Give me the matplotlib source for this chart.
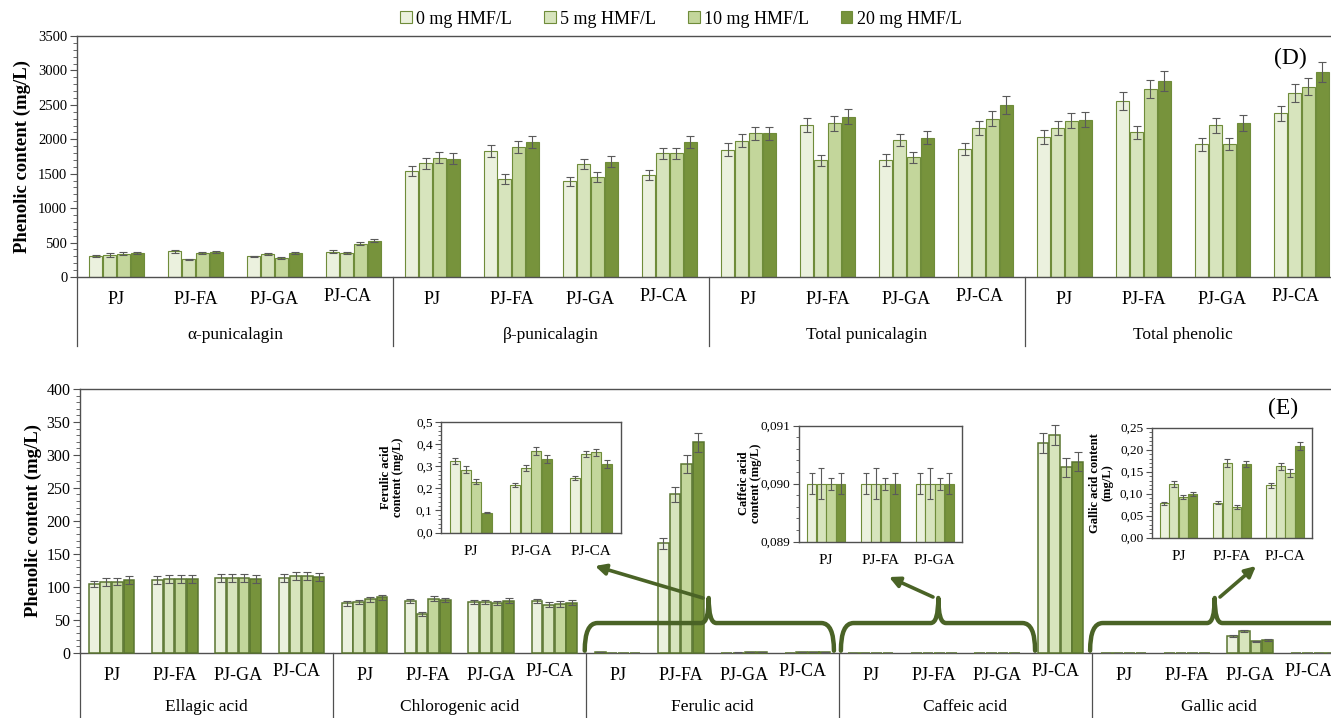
import numpy as np
import matplotlib
matplotlib.use("Agg")
import matplotlib.pyplot as plt
from matplotlib.path import Path
from matplotlib.patches import PathPatch, Patch, FancyArrowPatch
from matplotlib.ticker import MultipleLocator, FuncFormatter
from matplotlib.transforms import blended_transform_factory

plt.rcParams['font.family'] = ['Liberation Serif', 'DejaVu Serif']

# ---------------- data ----------------
samples = ["PJ", "PJ-FA", "PJ-GA", "PJ-CA"]
doses = ["0 mg HMF/L", "5 mg HMF/L", "10 mg HMF/L", "20 mg HMF/L"]

groups_D = ["α-punicalagin", "β-punicalagin", "Total punicalagin", "Total phenolic"]
alpha_pun = [[300, 320, 335, 345], [375, 255, 345, 365], [300, 335, 270, 345], [365, 345, 480, 530]]
alpha_pun_err = [[15, 25, 22, 15], [20, 12, 18, 15], [12, 20, 15, 15], [20, 15, 22, 25]]
beta_pun = [[1540, 1650, 1735, 1720], [1830, 1420, 1885, 1960], [1390, 1645, 1450, 1675], [1480, 1800, 1795, 1960]]
beta_pun_err = [[75, 75, 85, 85], [85, 75, 85, 85], [65, 70, 70, 75], [70, 80, 85, 90]]
total_pun = [[1850, 1980, 2085, 2085], [2205, 1695, 2235, 2330], [1695, 1990, 1740, 2025], [1855, 2165, 2300, 2495]]
total_pun_err = [[95, 90, 100, 100], [100, 80, 110, 110], [85, 90, 80, 100], [90, 105, 110, 130]]
total_phen = [[2030, 2160, 2270, 2285], [2555, 2100, 2725, 2845], [1925, 2205, 1935, 2235], [2375, 2675, 2765, 2980]]
total_phen_err = [[100, 100, 110, 105], [125, 95, 130, 140], [95, 110, 90, 120], [110, 130, 120, 145]]

groups_E = ["Ellagic acid", "Chlorogenic acid", "Ferulic acid", "Caffeic acid", "Gallic acid"]
ellagic = [[104, 107, 108, 110], [110, 112, 112, 112], [113, 113, 113, 112], [113, 116, 116, 115]]
ellagic_err = [[5, 6, 6, 6], [6, 6, 6, 6], [6, 6, 6, 6], [6, 6, 6, 6]]
chlorogenic = [[75, 77, 81, 84], [79, 59, 82, 80], [77, 77, 75, 79], [78, 73, 74, 76]]
chlorogenic_err = [[4, 3, 4, 4], [3, 3, 4, 3], [3, 3, 3, 4], [3, 4, 4, 4]]
# ferulic acid (inset values for PJ, PJ-GA, PJ-CA)
ferulic_PJ = [0.324, 0.285, 0.230, 0.090]
ferulic_PJ_FA = [166, 240, 286, 319]
ferulic_PJ_GA = [0.215, 0.291, 0.367, 0.333]
ferulic_PJ_CA = [0.247, 0.356, 0.362, 0.311]
ferulic_err_PJ = [0.015, 0.015, 0.010, 0.003]
ferulic_err_PJ_FA = [8, 12, 14, 15]
ferulic_err_PJ_GA = [0.010, 0.013, 0.018, 0.018]
ferulic_err_PJ_CA = [0.010, 0.015, 0.017, 0.017]
# caffeic acid
caffeic_low = [0.090, 0.090, 0.090, 0.090]
caffeic_low_err = [0.00018, 0.00027, 0.00010, 0.00018]
caffeic_PJ_CA = [318, 330, 281, 290]
caffeic_err_PJ_CA = [15, 15, 15, 15]
# gallic acid
gallic_PJ = [0.078, 0.123, 0.093, 0.099]
gallic_PJ_FA = [0.080, 0.170, 0.070, 0.167]
gallic_PJ_GA = [25, 33, 17, 20]
gallic_PJ_CA = [0.119, 0.162, 0.147, 0.209]
gallic_err_PJ = [0.004, 0.007, 0.005, 0.005]
gallic_err_PJ_FA = [0.003, 0.009, 0.004, 0.007]
gallic_err_PJ_GA = [1.5, 1.5, 1.5, 1.5]
gallic_err_PJ_CA = [0.006, 0.007, 0.009, 0.009]

# ---------------- style ----------------
W, H = 1331, 718
fig = plt.figure(figsize=(W / 100, H / 100), dpi=100)


def fx(px):
    return px / W


def fy(py):
    return 1 - py / H


colors = ['#EBF1DE', '#D7E4BD', '#C3D69B', '#77933C']
edge = '#6F8C3A'
edge_dark = '#5A7530'
errc = '#5A5A5A'
axc = '#505050'
brace_c = '#4A6326'


def draw_bars(ax, data, err, width, step, capsize, elw, z=2, ec=edge, lw=0.8, clip=True):
    data = np.asarray(data, dtype=float)
    err = np.asarray(err, dtype=float)
    x = np.arange(data.shape[0])
    for d in range(4):
        bars = ax.bar(x + (d - 1.5) * step, data[:, d], width, color=colors[d], edgecolor=ec,
                      linewidth=lw, yerr=err[:, d],
                      error_kw=dict(ecolor=errc, elinewidth=elw, capsize=capsize, capthick=elw,
                                    zorder=z + 0.1),
                      zorder=z)
        if not clip:
            for b in bars:
                b.set_clip_on(False)


def style_axis(ax, spines_all=False):
    for s in ['left', 'bottom', 'top', 'right']:
        ax.spines[s].set_color(axc)
        ax.spines[s].set_linewidth(1.0)
    if not spines_all:
        ax.spines['right'].set_visible(False)


def multilevel(ax, groups, cat_y, grp_y, line_bottom, cat_fs, grp_fs):
    trans = blended_transform_factory(ax.transData, ax.transAxes)
    for g, name in enumerate(groups):
        for s, sname in enumerate(samples):
            dx = -0.07 if sname == "PJ-CA" else 0.0
            dy = 0.015 if sname == "PJ-CA" else 0.0
            ax.text(g * 4 + s + dx, cat_y + dy, sname, transform=trans, ha='center', va='center',
                    fontsize=cat_fs)
        ax.text(g * 4 + 1.5, grp_y, name, transform=trans, ha='center', va='center', fontsize=grp_fs)
    for g in range(len(groups) + 1):
        ax.plot([g * 4 - 0.5] * 2, [0, line_bottom], transform=trans, color=axc, lw=0.9, clip_on=False)


# ---------------- panel D ----------------
axD = fig.add_axes([fx(77), fy(277), (1341 - 77) / W, (277 - 36) / H])
D_all = alpha_pun + beta_pun + total_pun + total_phen
D_err = alpha_pun_err + beta_pun_err + total_pun_err + total_phen_err
draw_bars(axD, D_all, D_err, 0.172, 0.176, 3, 0.8)
axD.set_xlim(-0.5, 15.5)
axD.set_ylim(0, 3500)
axD.yaxis.set_major_locator(MultipleLocator(500))
axD.yaxis.set_minor_locator(MultipleLocator(100))
axD.set_xticks([])
axD.tick_params(axis='y', which='major', length=5, direction='out', labelsize=10.5, color=axc, pad=2)
axD.tick_params(axis='y', which='minor', length=3, direction='out', color=axc)
style_axis(axD)
axD.set_ylabel("Phenolic content (mg/L)", fontsize=13.5, fontweight='bold')
axD.yaxis.set_label_coords((31 - 77) / 1264, 0.5)
multilevel(axD, groups_D, -0.095, -0.24, -0.285, 13, 12.5)

# ---------------- panel E ----------------
axE = fig.add_axes([fx(80), fy(652.7), (1345 - 80) / W, (652.7 - 389) / H])
E_all = (ellagic + chlorogenic
         + [ferulic_PJ, ferulic_PJ_FA, ferulic_PJ_GA, ferulic_PJ_CA]
         + [caffeic_low, caffeic_low, caffeic_low, caffeic_PJ_CA]
         + [gallic_PJ, gallic_PJ_FA, gallic_PJ_GA, gallic_PJ_CA])
E_err = (ellagic_err + chlorogenic_err
         + [ferulic_err_PJ, ferulic_err_PJ_FA, ferulic_err_PJ_GA, ferulic_err_PJ_CA]
         + [caffeic_low_err, caffeic_low_err, caffeic_low_err, caffeic_err_PJ_CA]
         + [gallic_err_PJ, gallic_err_PJ_FA, gallic_err_PJ_GA, gallic_err_PJ_CA])
draw_bars(axE, E_all, E_err, 0.17, 0.184, 3, 0.8, z=3, ec=edge_dark, lw=1.1, clip=False)
axE.set_xlim(-0.5, 19.5)
axE.set_ylim(0, 400)
axE.yaxis.set_major_locator(MultipleLocator(50))
axE.yaxis.set_minor_locator(MultipleLocator(10))
axE.set_xticks([])
axE.tick_params(axis='y', which='major', length=5, direction='out', labelsize=11.5, color=axc, pad=2)
axE.tick_params(axis='y', which='minor', length=3, direction='out', color=axc)
style_axis(axE)
axE.set_ylabel("Phenolic content (mg/L)", fontsize=13.5, fontweight='bold')
axE.yaxis.set_label_coords((42 - 80) / 1265, 0.5)
multilevel(axE, groups_E, -0.085, -0.205, -0.26, 13, 12.5)


# braces
def brace(ax, x0, x1, xs, ybase=3, yh=45, ytip=83, r=0.2, sw=0.12):
    verts = [(x0, ybase), (x0, yh), (x0 + r, yh),
             (xs - sw, yh), (xs, yh), (xs, ytip), (xs, yh), (xs + sw, yh),
             (x1 - r, yh), (x1, yh), (x1, ybase)]
    codes = [Path.MOVETO, Path.CURVE3, Path.CURVE3,
             Path.LINETO, Path.CURVE3, Path.CURVE3, Path.CURVE3, Path.CURVE3,
             Path.LINETO, Path.CURVE3, Path.CURVE3]
    ax.add_patch(PathPatch(Path(verts, codes), facecolor='none', edgecolor=brace_c,
                           lw=3.2, zorder=5, clip_on=False, capstyle='round', joinstyle='round'))


brace(axE, 7.48, 11.42, 9.44)
brace(axE, 11.53, 14.6, 13.07)
brace(axE, 15.47, 19.6, 17.44)

# arrows (figure pixel anchors)
for (xa, ya), (xb, yb) in [((703, 598), (595, 566)), ((933, 597), (889, 577)), ((1220, 597), (1256, 566))]:
    fig.add_artist(FancyArrowPatch((fx(xa), fy(ya)), (fx(xb), fy(yb)), transform=fig.transFigure,
                                   arrowstyle='-|>', mutation_scale=16, lw=2.6, color=brace_c,
                                   shrinkA=0, shrinkB=0, zorder=6))


# ---------------- insets ----------------
def comma_fmt(nd):
    return FuncFormatter(lambda v, p: f"{v:.{nd}f}".replace('.', ','))


def inset(rect, cats, data, err, ylim, major, minor, nd, ylabel, lab_x):
    ax = fig.add_axes(rect)
    draw_bars(ax, data, err, 0.17, 0.178, 2.5, 0.8)
    ax.set_xlim(-0.5, 2.5)
    ax.set_ylim(*ylim)
    ax.set_xticks(range(3))
    ax.set_xticklabels(cats, fontsize=11)
    ax.tick_params(axis='x', length=0, pad=9)
    ax.yaxis.set_major_locator(MultipleLocator(major))
    ax.yaxis.set_minor_locator(MultipleLocator(minor))
    ax.yaxis.set_major_formatter(comma_fmt(nd))
    ax.tick_params(axis='y', which='major', length=4, direction='out', labelsize=9.5, color=axc, pad=2)
    ax.tick_params(axis='y', which='minor', length=2.5, direction='out', color=axc)
    style_axis(ax, spines_all=True)
    ax.set_ylabel(ylabel, fontsize=9, fontweight='bold', linespacing=1.0)
    ax.yaxis.set_label_coords(lab_x, 0.5)
    return ax


inset([fx(441), fy(532.5), 180 / W, 110.5 / H], ["PJ", "PJ-GA", "PJ-CA"],
      [ferulic_PJ, ferulic_PJ_GA, ferulic_PJ_CA],
      [ferulic_err_PJ, ferulic_err_PJ_GA, ferulic_err_PJ_CA],
      (0, 0.5), 0.1, 0.02, 1, "Ferulic acid\ncontent (mg/L)", -0.205)

inset([fx(799), fy(541.7), 163 / W, 116 / H], ["PJ", "PJ-FA", "PJ-GA"],
      [caffeic_low, caffeic_low, caffeic_low],
      [caffeic_low_err, caffeic_low_err, caffeic_low_err],
      (0.089, 0.091), 0.001, 0.0002, 3, "Caffeic acid\ncontent (mg/L)", -0.227)

inset([fx(1151.7), fy(537.7), 160.3 / W, 110 / H], ["PJ", "PJ-FA", "PJ-CA"],
      [gallic_PJ, gallic_PJ_FA, gallic_PJ_CA],
      [gallic_err_PJ, gallic_err_PJ_FA, gallic_err_PJ_CA],
      (0, 0.25), 0.05, 0.01, 2, "Gallic acid content\n(mg/L)", -0.24)

# ---------------- legend & panel letters ----------------
handles = [Patch(facecolor=c, edgecolor=edge, linewidth=0.8) for c in colors]
fig.legend(handles, doses, loc='center', bbox_to_anchor=(fx(681), fy(19)), ncol=4, frameon=False,
           fontsize=13, handlelength=0.65, handleheight=0.65, handletextpad=0.25, columnspacing=1.75)
fig.text(fx(1290), fy(58), "(D)", fontsize=17, ha='center', va='center')
fig.text(fx(1283), fy(408), "(E)", fontsize=17, ha='center', va='center')

fig.savefig("out.png", dpi=100)
